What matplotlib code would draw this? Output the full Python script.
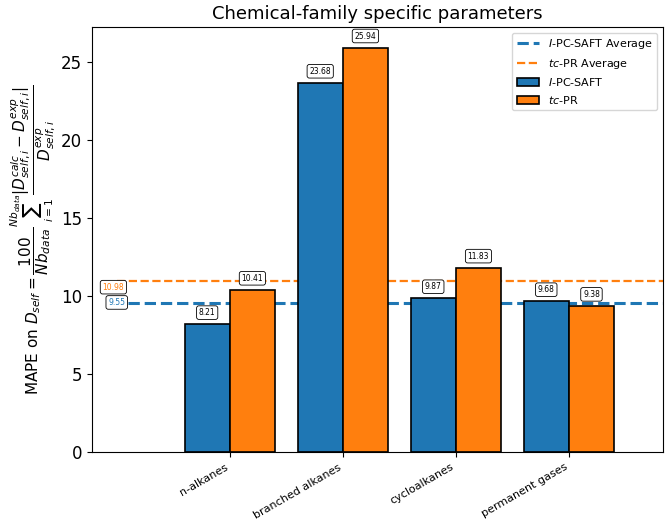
import numpy as np
import matplotlib
matplotlib.use("Agg")
import matplotlib.pyplot as plt

# data
families = ["n-alkanes", "branched alkanes", "cycloalkanes", "permanent gases"]
ipcsaft = [8.21, 23.68, 9.87, 9.68]
tcpr = [10.41, 25.94, 11.83, 9.38]
avg_ipcsaft = 9.55
avg_tcpr = 10.98

c_blue = "#1f77b4"
c_orange = "#ff7f0e"
w = 0.4
x = np.arange(len(families))

fig, ax = plt.subplots(figsize=(6.66, 5.21), dpi=100)

b1 = ax.bar(x - w / 2, ipcsaft, w, color=c_blue, edgecolor="black", linewidth=1.2,
            label=r"$\mathit{I}$-PC-SAFT", zorder=2)
b2 = ax.bar(x + w / 2, tcpr, w, color=c_orange, edgecolor="black", linewidth=1.2,
            label=r"$tc$-PR", zorder=2)

# average lines
xmin, xmax = -1.22, 3.83
l1 = ax.hlines(avg_ipcsaft, -0.9, xmax, colors=c_blue, linestyles="--", linewidth=2.2,
               label=r"$\mathit{I}$-PC-SAFT Average", zorder=1)
l2 = ax.hlines(avg_tcpr, -1.0, xmax, colors=c_orange, linestyles="--", linewidth=1.6,
               label=r"$tc$-PR Average", zorder=1)

box = dict(boxstyle="round,pad=0.3", facecolor="white", edgecolor="black", linewidth=0.6)
ax.text(-1.03, avg_tcpr - 0.4, f"{avg_tcpr:.2f}", fontsize=5.5, color=c_orange,
        ha="center", va="center", bbox=box)
ax.text(-1.0, avg_ipcsaft + 0.05, f"{avg_ipcsaft:.2f}", fontsize=5.5, color=c_blue,
        ha="center", va="center", bbox=box)

# value labels
for bars, vals in [(b1, ipcsaft), (b2, tcpr)]:
    for rect, v in zip(bars, vals):
        ax.text(rect.get_x() + rect.get_width() / 2, v + 0.45, f"{v:.2f}",
                fontsize=5.5, ha="center", va="bottom", bbox=box)

ax.set_xlim(xmin, xmax)
ax.set_ylim(0, 27.25)
ax.set_xticks(x)
ax.set_xticklabels(families, rotation=30, ha="right", fontsize=8)
ax.tick_params(axis="y", labelsize=12)
ax.set_title("Chemical-family specific parameters", fontsize=13)
ax.set_ylabel(r"MAPE on $D_{self} = \dfrac{100}{Nb_{data}}\sum_{i=1}^{Nb_{data}}"
              r"\dfrac{|D_{self,i}^{calc} - D_{self,i}^{exp}|}{D_{self,i}^{exp}}$",
              fontsize=11, labelpad=2)

ax.legend([l1, l2, b1, b2],
          [r"$\mathit{I}$-PC-SAFT Average", r"$tc$-PR Average",
           r"$\mathit{I}$-PC-SAFT", r"$tc$-PR"],
          loc="upper right", fontsize=8)

plt.subplots_adjust(left=0.138, right=0.995, top=0.948, bottom=0.132)
plt.savefig("out.png")
